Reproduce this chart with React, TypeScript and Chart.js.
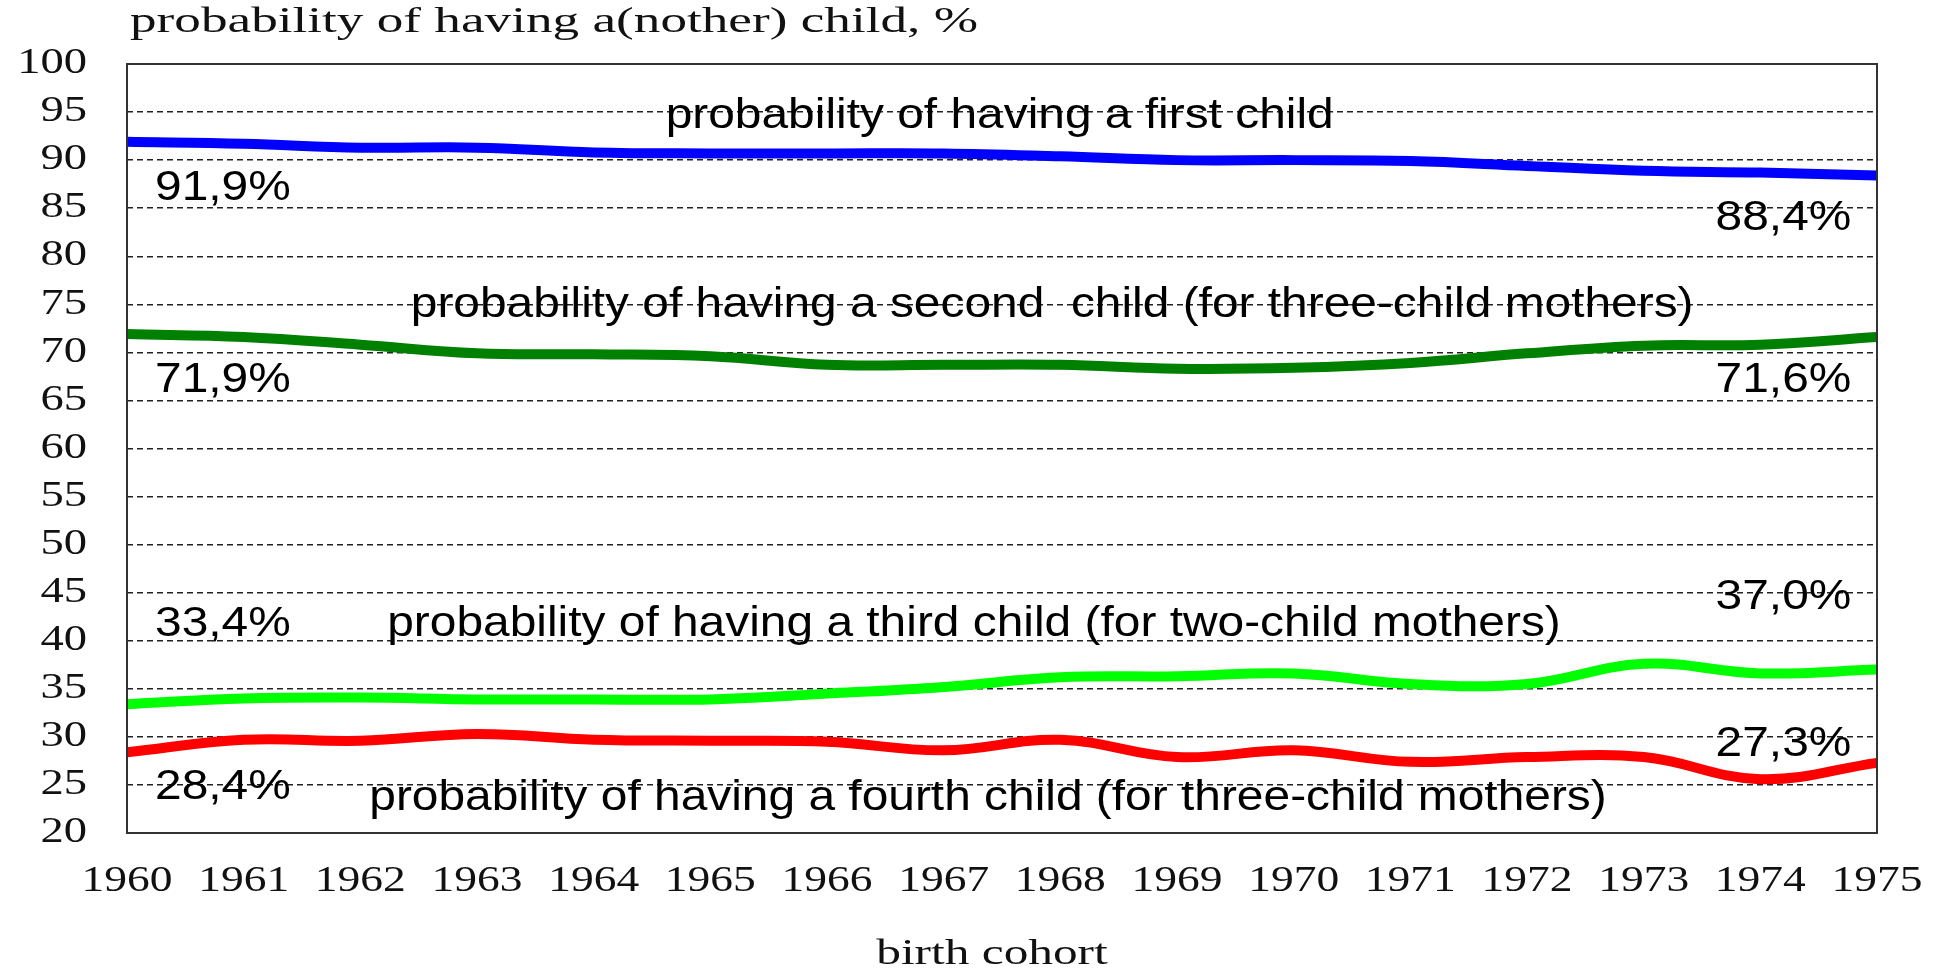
import React, { useEffect, useRef } from "react";
import { Chart, registerables } from "chart.js";

Chart.register(...registerables);

const years = ["1960","1961","1962","1963","1964","1965","1966","1967","1968","1969","1970","1971","1972","1973","1974","1975"];
const firstChild = [91.9, 91.7, 91.3, 91.3, 90.8, 90.7, 90.7, 90.7, 90.4, 90.0, 90.0, 89.9, 89.4, 88.9, 88.7, 88.4];
const secondChild = [71.9, 71.6, 70.8, 69.9, 69.8, 69.6, 68.7, 68.7, 68.7, 68.3, 68.4, 68.9, 69.9, 70.7, 70.8, 71.6];
const thirdChild = [33.4, 34.0, 34.1, 33.9, 33.9, 33.9, 34.5, 35.2, 36.2, 36.3, 36.6, 35.5, 35.5, 37.6, 36.6, 37.0];
const fourthChild = [28.4, 29.7, 29.6, 30.3, 29.7, 29.6, 29.5, 28.6, 29.7, 27.9, 28.6, 27.4, 27.9, 27.9, 25.6, 27.3];

const yTitle = "probability of having a(nother) child, %";
const xTitle = "birth cohort";

// annotations: [text, x (category index), y (value), align]
const annotations: [string, number, number, CanvasTextAlign][] = [
  ["probability of having a first child", 7.48, 94.5, "center"],
  ["91,9%", 0.24, 87.1, "left"],
  ["88,4%", 14.78, 83.9, "right"],
  ["probability of having a second  child (for three-child mothers)", 7.93, 74.9, "center"],
  ["71,9%", 0.24, 67.1, "left"],
  ["71,6%", 14.78, 67.1, "right"],
  ["37,0%", 14.78, 44.55, "right"],
  ["33,4%", 0.24, 41.7, "left"],
  ["probability of having a third child (for two-child mothers)", 7.26, 41.7, "center"],
  ["27,3%", 14.78, 29.25, "right"],
  ["28,4%", 0.24, 24.7, "left"],
  ["probability of having a fourth child (for three-child mothers)", 7.38, 23.6, "center"],
];

const SERIF = "'Liberation Serif', 'Times New Roman', serif";
const SANS = "'Liberation Sans', Arial, sans-serif";

function drawStretched(ctx: CanvasRenderingContext2D, text: string, x: number, y: number, align: CanvasTextAlign, sx: number) {
  ctx.save();
  ctx.translate(x, y);
  ctx.scale(sx, 1);
  ctx.textAlign = align;
  ctx.fillText(text, 0, 0);
  ctx.restore();
}

const textPlugin = {
  id: "texts",
  afterDraw(chart: any) {
    const { ctx, chartArea, scales } = chart;
    ctx.save();
    // frame
    ctx.strokeStyle = "#333";
    ctx.lineWidth = 2;
    ctx.strokeRect(chartArea.left, chartArea.top, chartArea.right - chartArea.left, chartArea.bottom - chartArea.top);
    ctx.fillStyle = "#000";
    ctx.textBaseline = "middle";
    // tick labels (from the library's scales)
    ctx.font = `35px ${SERIF}`;
    ctx.fillStyle = "#111";
    scales.y.ticks.forEach((t: any, i: number) => {
      drawStretched(ctx, String(t.label), chartArea.left - 40, scales.y.getPixelForTick(i), "right", 1.33);
    });
    scales.x.ticks.forEach((t: any, i: number) => {
      drawStretched(ctx, String(t.label), scales.x.getPixelForTick(i), chartArea.bottom + 49, "center", 1.3);
    });
    // annotations
    ctx.fillStyle = "#000";
    ctx.font = `42px ${SANS}`;
    for (const [t, xi, yv, al] of annotations) {
      drawStretched(ctx, t, scales.x.getPixelForValue(xi), scales.y.getPixelForValue(yv), al, 1.14);
    }
    // titles
    ctx.fillStyle = "#111";
    ctx.font = `35px ${SERIF}`;
    drawStretched(ctx, yTitle, chartArea.left + 3, 23, "left", 1.52);
    ctx.font = `36px ${SERIF}`;
    drawStretched(ctx, xTitle, (chartArea.left + chartArea.right) / 2 - 10, 955, "center", 1.37);
    ctx.restore();
  },
};

const mk = (label: string, data: number[], color: string) => ({
  label,
  data,
  borderColor: color,
  backgroundColor: color,
  borderWidth: 10,
  pointRadius: 0,
  tension: 0.4,
  fill: false,
});

export default function App() {
  const ref = useRef<HTMLCanvasElement>(null);
  useEffect(() => {
    const chart = new Chart(ref.current!, {
      type: "line",
      data: {
        labels: years,
        datasets: [
          mk("first", firstChild, "#0000ff"),
          mk("second", secondChild, "#008000"),
          mk("third", thirdChild, "#00ff00"),
          mk("fourth", fourthChild, "#ff0000"),
        ],
      },
      options: {
        responsive: false,
        animation: false,
        layout: { padding: { left: 0, top: 64, right: 62, bottom: 0 } },
        plugins: { legend: { display: false }, tooltip: { enabled: false } },
        scales: {
          x: {
            offset: false,
            grid: { display: false, drawTicks: false },
            border: { display: false },
            ticks: { color: "rgba(0,0,0,0)", font: { family: SERIF, size: 32 }, padding: 30, maxRotation: 0, autoSkip: false },
            afterFit: (s: any) => { s.height = 135; },
          },
          y: {
            min: 20,
            max: 100,
            grid: {
              drawTicks: false,
              color: (c: any) => (c.tick && (c.tick.value === 20 || c.tick.value === 100) ? "rgba(0,0,0,0)" : "#222"),
              lineWidth: 1.5,
            },
            border: { display: false, dash: [6, 4] },
            ticks: { stepSize: 5, color: "rgba(0,0,0,0)", font: { family: SERIF, size: 32 }, padding: 40 },
            afterFit: (s: any) => { s.width = 127; },
          },
        },
      },
      plugins: [textPlugin],
    });
    return () => chart.destroy();
  }, []);
  return (
    <div style={{ position: "fixed", left: 0, top: 0, width: 1939, height: 968, background: "#fff" }}>
      <canvas ref={ref} width={1939} height={968} />
    </div>
  );
}
